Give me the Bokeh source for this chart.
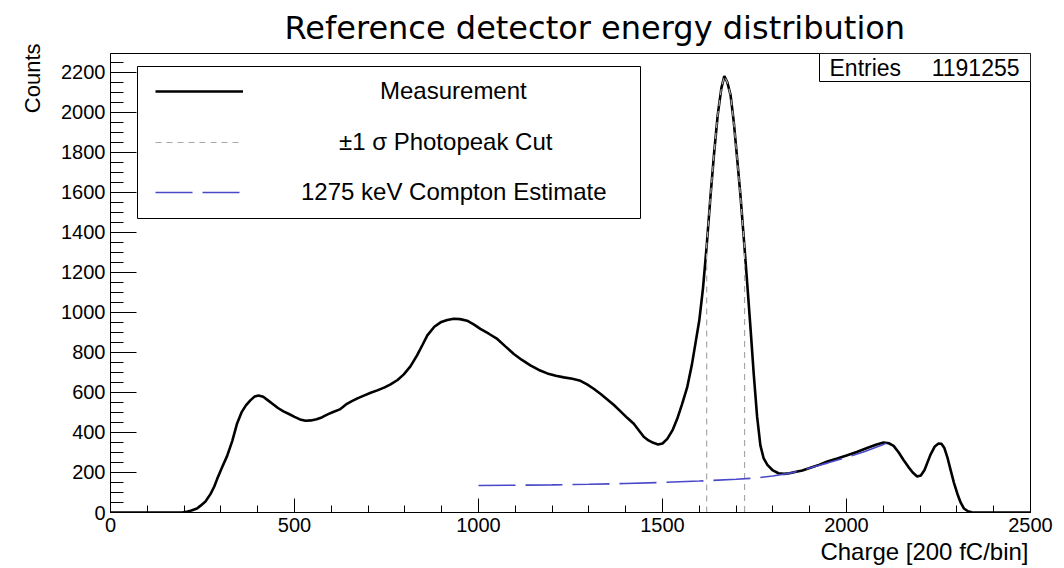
from bokeh.plotting import figure
from bokeh.models import (Range1d, SingleIntervalTicker, Label, BoxAnnotation,
                          Legend, LegendItem, Title)
from bokeh.embed import file_html
from bokeh.resources import INLINE

# ---------------- data ----------------
title_text = "Reference detector energy distribution"
x_title = "Charge [200 fC/bin]"
y_title = "Counts"
entries_label = "Entries"
entries_value = "1191255"

charge = [0, 195, 205, 220, 235, 244, 258, 272, 282, 290, 303, 317, 331, 344,
          356, 368, 380, 392, 402, 415, 428, 440, 455, 470, 485, 500, 515, 530,
          545, 560, 574, 590, 605, 623, 640, 656, 671, 690, 707, 725, 745, 761,
          780, 797, 815, 833, 848, 861, 880, 897, 915, 933, 950, 969, 987, 1005,
          1028, 1051, 1073, 1096, 1118, 1141, 1164, 1187, 1210, 1232, 1255, 1277,
          1295, 1313, 1332, 1350, 1368, 1386, 1404, 1422, 1436, 1449, 1462, 1475,
          1488, 1500, 1513, 1527, 1540, 1553, 1567, 1580, 1590, 1600, 1610, 1620,
          1630, 1640, 1650, 1660, 1668, 1676, 1685, 1694, 1703, 1712, 1723, 1732,
          1740, 1748, 1757, 1766, 1775, 1785, 1800, 1815, 1830, 1845, 1860, 1880,
          1900, 1925, 1948, 1975, 2000, 2028, 2056, 2080, 2101, 2115, 2128, 2142,
          2155, 2168, 2180, 2192, 2202, 2212, 2228, 2240, 2250, 2258, 2266, 2275,
          2283, 2292, 2301, 2310, 2319, 2330, 2340, 2350, 2500]
counts = [0, 0, 3, 10, 20, 33, 55, 93, 130, 168, 225, 283, 358, 445,
          500, 535, 560, 580, 585, 578, 560, 543, 522, 505, 492, 478, 465, 458,
          460, 466, 475, 490, 502, 515, 540, 556, 570, 585, 598, 610, 625, 640,
          662, 690, 730, 785, 838, 885, 928, 950, 962, 968, 966, 958, 940, 917,
          893, 867, 830, 792, 762, 735, 712, 695, 683, 675, 668, 658,
          640, 618, 592, 565, 537, 505, 473, 443, 410, 378, 360, 348,
          340, 345, 368, 410, 468, 540, 625, 740, 850, 960, 1120, 1330,
          1570, 1790, 1985, 2120, 2180, 2150, 2085, 1945, 1765, 1580, 1320, 1100,
          900, 690, 480, 335, 270, 238, 210, 196, 193, 196, 202, 210,
          222, 238, 255, 270, 285, 302, 322, 338, 350, 346, 333, 300,
          262, 228, 200, 180, 185, 212, 288, 330, 345, 343, 322, 270,
          212, 148, 95, 50, 20, 6, 1, 0, 0]

cut_low = 1620    # -1 sigma edge of the photopeak
cut_high = 1723   # +1 sigma edge of the photopeak

compton_charge = [1000, 1100, 1200, 1300, 1400, 1500, 1600, 1700, 1750, 1800,
                  1850, 1900, 1950, 2000, 2050, 2100, 2110]
compton_counts = [135, 136, 138, 141, 145, 150, 157, 166, 172, 182,
                  198, 222, 248, 275, 305, 340, 348]

legend_labels = ["Measurement", "\u00b11 \u03c3 Photopeak Cut",
                 "1275 keV Compton Estimate"]

# photopeak cut histogram: the measurement restricted to [cut_low, cut_high]
cut_x = [cut_low] + [c for c in charge if cut_low <= c <= cut_high] + [cut_high]
cut_y = [0] + [n for c, n in zip(charge, counts) if cut_low <= c <= cut_high] + [0]

# ---------------- figure ----------------
FONT = "Liberation Sans"
p = figure(width=1064, height=568, output_backend="svg", toolbar_location=None,
           x_range=Range1d(0, 2500), y_range=Range1d(0, 2293),
           min_border_left=110, min_border_right=34,
           min_border_top=53, min_border_bottom=56)
p.xgrid.visible = False
p.ygrid.visible = False
p.background_fill_color = "white"
p.border_fill_color = "white"
p.outline_line_color = "black"
p.outline_line_width = 1
p.outline_line_alpha = 1

# title (centred a little right of the frame centre, as in the reference)
p.title.text = title_text
p.title.align = "left"
p.title.offset = 174
p.title.text_font = "DejaVu Sans"
p.title.text_font_size = "32px"
p.title.text_font_style = "normal"
p.title.text_color = "black"
p.title.standoff = 13

p.xaxis.ticker = SingleIntervalTicker(interval=500, num_minor_ticks=5)
p.yaxis.ticker = SingleIntervalTicker(interval=200, num_minor_ticks=4)
for ax, mj, mn in ((p.xaxis, 14, 7), (p.yaxis, 26, 13)):
    ax.major_tick_in = mj
    ax.major_tick_out = 0
    ax.minor_tick_in = mn
    ax.minor_tick_out = 0
    ax.major_tick_line_color = "black"
    ax.minor_tick_line_color = "black"
    ax.axis_line_color = "black"
    ax.major_label_text_font = FONT
    ax.major_label_text_font_size = "20px"
    ax.major_label_text_color = "black"
p.xaxis.major_label_standoff = 5
p.yaxis.major_label_standoff = 5

# axis titles, ROOT style: at the far ends of the axes
p.add_layout(Title(text=x_title, align="right", offset=2, text_font=FONT,
                   text_font_size="24px", text_font_style="normal",
                   text_color="black", standoff=3), "below")
p.add_layout(Title(text=y_title, align="right", offset=-10, text_font=FONT,
                   text_font_size="22px", text_font_style="normal",
                   text_color="black", standoff=28), "left")

r_meas = p.line(charge, counts, line_color="black", line_width=2.6)
r_cut = p.line(cut_x, cut_y, line_color="#a8a8a8", line_width=1.2,
               line_dash="6 5")
r_comp = p.line(compton_charge, compton_counts, line_color="#4848c8",
                line_width=1.6, line_dash="37 10")

# legend frame and stats box
p.add_layout(BoxAnnotation(left=27, right=530, bottom=294, top=446,
                           left_units="screen", right_units="screen",
                           bottom_units="screen", top_units="screen",
                           fill_color="white", fill_alpha=1,
                           line_color="black", line_width=1, line_alpha=1))
p.add_layout(BoxAnnotation(left=709, right=920, bottom=431, top=459,
                           left_units="screen", right_units="screen",
                           bottom_units="screen", top_units="screen",
                           fill_color="white", fill_alpha=1,
                           line_color="black", line_width=1, line_alpha=1))

# one legend per row so that each label is centred in the box like ROOT's
rows = [(r_meas, legend_labels[0], 394, 137),
        (r_cut, legend_labels[1], 343, 96),
        (r_comp, legend_labels[2], 293, 58)]
for rend, lab, ybot, standoff in rows:
    p.add_layout(Legend(items=[LegendItem(label=lab, renderers=[rend])],
                        location=(32, ybot), glyph_width=88, glyph_height=24,
                        label_height=24, label_standoff=standoff, padding=13,
                        spacing=0, margin=0, label_text_font=FONT,
                        label_text_font_size="24px", label_text_color="black",
                        background_fill_alpha=0, border_line_alpha=0))

p.add_layout(Label(x=709 + 10, y=445, x_units="screen", y_units="screen",
                   text=entries_label, text_font=FONT, text_font_size="23px",
                   text_color="black", text_align="left",
                   text_baseline="middle"))
p.add_layout(Label(x=920 - 11, y=445, x_units="screen", y_units="screen",
                   text=entries_value, text_font=FONT, text_font_size="23px",
                   text_color="black", text_align="right",
                   text_baseline="middle"))

open("out.html", "w").write(file_html(p, INLINE))
